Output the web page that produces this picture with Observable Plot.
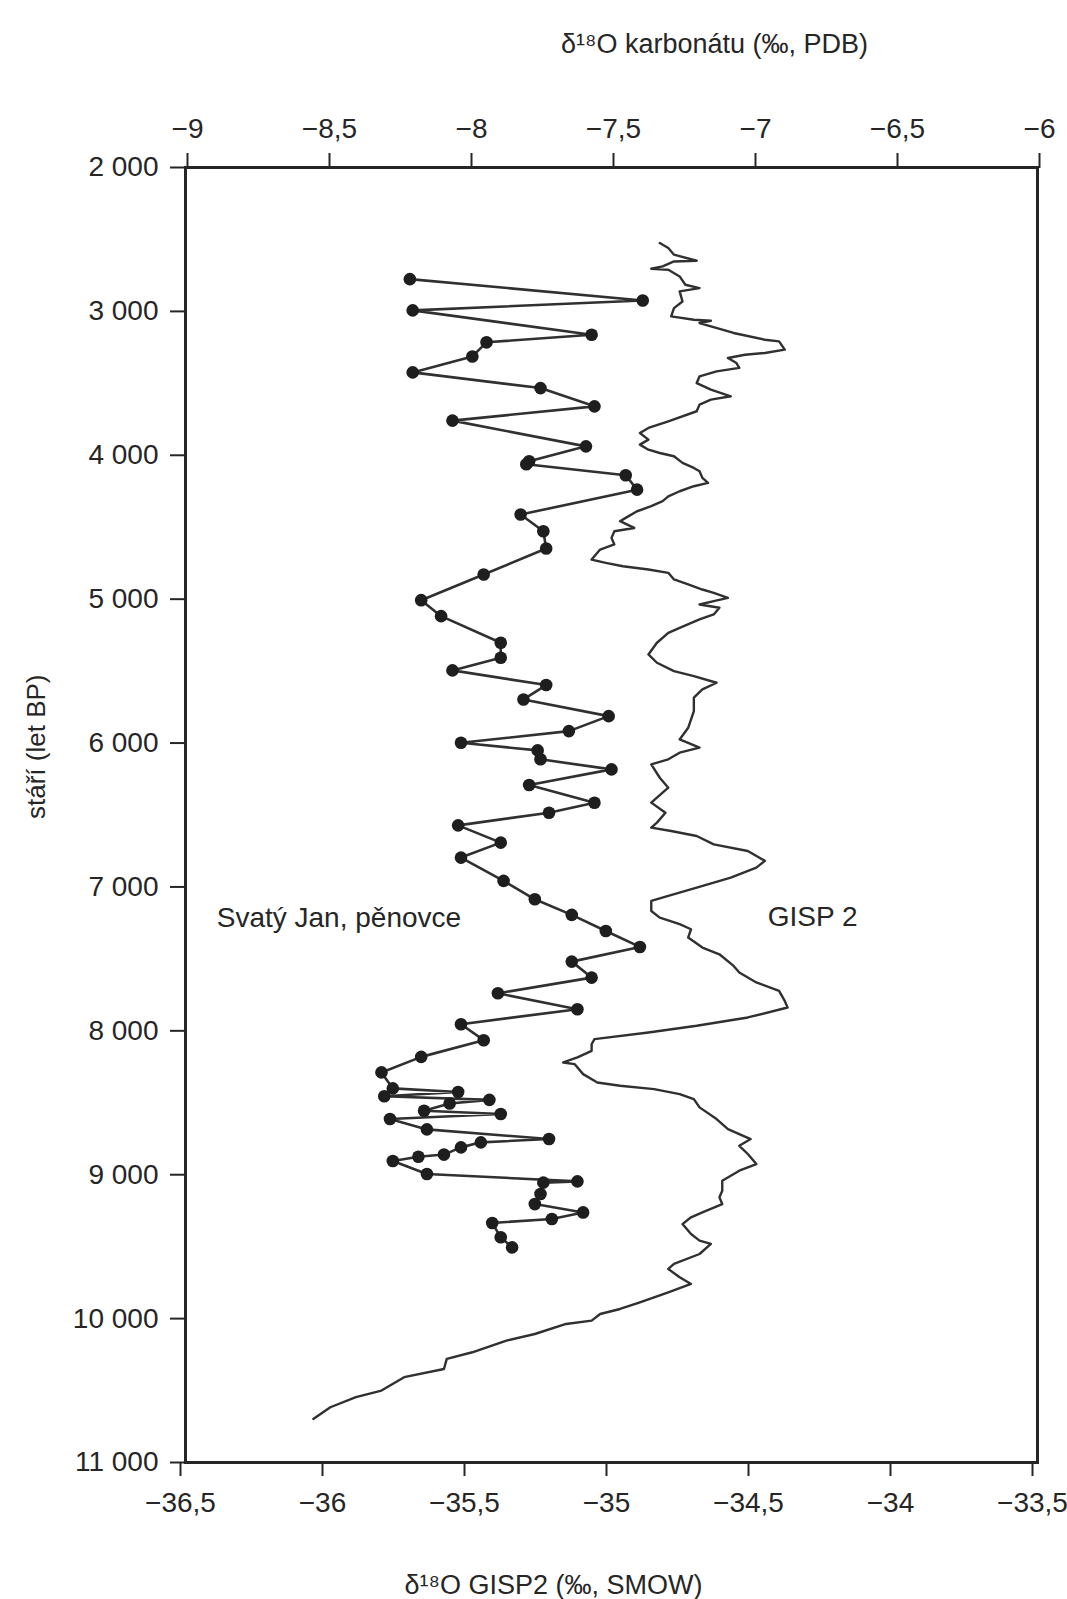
<!DOCTYPE html>
<html>
<head>
<meta charset="utf-8">
<script src="https://cdn.jsdelivr.net/npm/d3@7"></script>
<script src="https://cdn.jsdelivr.net/npm/@observablehq/plot@0.6"></script>
<style>
  html, body { margin: 0; padding: 0; background: #fff; }
  svg { display: block; }
</style>
</head>
<body>
<div id="chart"></div>
<script>
// ---- Svatý Jan tufa (pěnovce): age (years BP) and δ18O carbonate (‰ PDB)
const svAge = [2776, 2924, 2993, 3162, 3215, 3313, 3424, 3533, 3660, 3759,
  3938, 4042, 4062, 4139, 4239, 4412, 4528, 4648, 4829, 5007,
  5118, 5303, 5407, 5495, 5597, 5697, 5813, 5917, 5998, 6051,
  6113, 6183, 6292, 6415, 6484, 6572, 6692, 6796, 6958, 7086,
  7194, 7306, 7417, 7519, 7630, 7739, 7850, 7954, 8065, 8181,
  8289, 8400, 8425, 8455, 8480, 8505, 8555, 8578, 8613, 8685,
  8752, 8775, 8810, 8860, 8875, 8905, 8995, 9046, 9055, 9134,
  9204, 9262, 9308, 9335, 9435, 9505];
const svD18O = [-8.21, -7.39, -8.20, -7.57, -7.94, -7.99, -8.20, -7.75, -7.56, -8.06,
  -7.59, -7.79, -7.80, -7.45, -7.41, -7.82, -7.74, -7.73, -7.95, -8.17,
  -8.10, -7.89, -7.89, -8.06, -7.73, -7.81, -7.51, -7.65, -8.03, -7.76,
  -7.75, -7.50, -7.79, -7.56, -7.72, -8.04, -7.89, -8.03, -7.88, -7.77,
  -7.64, -7.52, -7.40, -7.64, -7.57, -7.90, -7.62, -8.03, -7.95, -8.17,
  -8.31, -8.27, -8.04, -8.30, -7.93, -8.07, -8.16, -7.89, -8.28, -8.15,
  -7.72, -7.96, -8.03, -8.09, -8.18, -8.27, -8.15, -7.62, -7.74, -7.75,
  -7.77, -7.60, -7.71, -7.92, -7.89, -7.85];

// ---- GISP2 ice core: age (years BP) and δ18O (‰ SMOW)
const gispAge = [2525, 2560, 2606, 2648, 2653, 2687, 2704, 2711, 2757, 2815,
  2838, 2861, 2931, 2977, 3035, 3058, 3065, 3081, 3150, 3197,
  3208, 3266, 3289, 3301, 3324, 3359, 3393, 3417, 3451, 3498,
  3544, 3590, 3613, 3648, 3694, 3764, 3810, 3845, 3891, 3926,
  3961, 3984, 4007, 4053, 4088, 4111, 4157, 4192, 4215, 4250,
  4285, 4319, 4354, 4389, 4435, 4458, 4505, 4528, 4574, 4620,
  4655, 4725, 4748, 4771, 4794, 4817, 4863, 4898, 4933, 4956,
  4991, 5014, 5037, 5060, 5106, 5141, 5199, 5234, 5303, 5384,
  5442, 5500, 5535, 5581, 5627, 5685, 5778, 5894, 5975, 6032,
  6067, 6113, 6148, 6241, 6310, 6414, 6484, 6553, 6588, 6611,
  6646, 6704, 6750, 6819, 6866, 6935, 7005, 7062, 7097, 7167,
  7213, 7259, 7294, 7352, 7421, 7468, 7549, 7595, 7664, 7722,
  7792, 7838, 7907, 7965, 8012, 8058, 8093, 8139, 8185, 8220,
  8231, 8301, 8359, 8382, 8405, 8440, 8475, 8532, 8613, 8683,
  8718, 8752, 8799, 8856, 8926, 8972, 9042, 9111, 9157, 9204,
  9262, 9296, 9343, 9412, 9458, 9481, 9551, 9620, 9655, 9713,
  9759, 9817, 9887, 9933, 9968, 10014, 10037, 10107, 10153, 10234,
  10280, 10350, 10407, 10500, 10546, 10616, 10697];
const gispD18O = [-34.83, -34.80, -34.78, -34.70, -34.78, -34.82, -34.86, -34.80, -34.76, -34.74,
  -34.69, -34.76, -34.75, -34.78, -34.79, -34.71, -34.65, -34.69, -34.57, -34.46,
  -34.41, -34.39, -34.46, -34.53, -34.59, -34.56, -34.55, -34.63, -34.69, -34.70,
  -34.65, -34.58, -34.65, -34.69, -34.70, -34.80, -34.87, -34.90, -34.87, -34.90,
  -34.87, -34.83, -34.78, -34.75, -34.71, -34.69, -34.68, -34.66, -34.71, -34.76,
  -34.80, -34.82, -34.86, -34.91, -34.95, -34.97, -34.92, -34.99, -35.00, -34.99,
  -35.04, -35.07, -35.02, -34.96, -34.87, -34.80, -34.78, -34.73, -34.68, -34.64,
  -34.59, -34.64, -34.69, -34.62, -34.64, -34.69, -34.76, -34.80, -34.84, -34.87,
  -34.84, -34.78, -34.71, -34.63, -34.68, -34.71, -34.71, -34.73, -34.76, -34.69,
  -34.76, -34.80, -34.86, -34.83, -34.80, -34.86, -34.81, -34.84, -34.86, -34.79,
  -34.70, -34.64, -34.52, -34.46, -34.49, -34.58, -34.70, -34.80, -34.86, -34.86,
  -34.83, -34.76, -34.72, -34.73, -34.68, -34.62, -34.57, -34.55, -34.49, -34.41,
  -34.39, -34.38, -34.52, -34.70, -34.87, -35.06, -35.07, -35.07, -35.12, -35.17,
  -35.13, -35.10, -35.05, -34.97, -34.85, -34.76, -34.71, -34.69, -34.63, -34.59,
  -34.55, -34.51, -34.55, -34.52, -34.49, -34.55, -34.61, -34.61, -34.62, -34.61,
  -34.68, -34.72, -34.75, -34.72, -34.69, -34.65, -34.69, -34.78, -34.80, -34.76,
  -34.72, -34.80, -34.90, -34.97, -35.04, -35.07, -35.16, -35.27, -35.37, -35.49,
  -35.58, -35.59, -35.73, -35.81, -35.90, -35.99, -36.05];

// ---- axes
const bottomTicks = [-36.5, -36, -35.5, -35, -34.5, -34, -33.5];   // δ18O GISP2
const topTicks = [-9, -8.5, -8, -7.5, -7, -6.5, -6];               // δ18O carbonate
const ageTicks = [2000, 3000, 4000, 5000, 6000, 7000, 8000, 9000, 10000, 11000];

// Texts
const topTitle = "δ¹⁸O karbonátu (‰, PDB)";
const bottomTitle = "δ¹⁸O GISP2 (‰, SMOW)";
const yTitle = "stáří (let BP)";
const seriesLabels = ["Svatý Jan, pěnovce", "GISP 2"];
const seriesLabelX = [-36.39, -34.45];   // in GISP2 ‰ units
const seriesLabelY = [7280, 7270];       // in years BP

// The carbonate axis (top) is a shifted copy of the GISP2 axis (bottom):
// −9 ‰ PDB sits over −36.5 ‰ SMOW, so shift = −27.5.
const shift = bottomTicks[0] - topTicks[0];

const sv = svAge.map((a, i) => ({age: a, v: svD18O[i] + shift}));
const gisp = gispAge.map((a, i) => ({age: a, v: gispD18O[i]}));
const labels = seriesLabels.map((t, i) => ({t, x: seriesLabelX[i], y: seriesLabelY[i]}));

const fmtX = d => d3.format(".1~f")(d).replace(".", ",");
const fmtTop = d => fmtX(Math.round((d - shift) * 10) / 10);
const fmtY = d => d3.format(",")(d).replace(",", " ");

const ink = "#262626";
const font = "'Liberation Sans', Arial, Helvetica, sans-serif";

const chart = Plot.plot({
  width: 1067,
  height: 1599,
  marginLeft: 185,
  marginRight: 30,
  marginTop: 167,
  marginBottom: 137,
  x: {domain: [bottomTicks[0], bottomTicks[bottomTicks.length - 1]]},
  y: {domain: [ageTicks[0], ageTicks[ageTicks.length - 1]], reverse: true},
  style: {fontFamily: font, fontSize: "28px", color: ink, background: "#fff"},
  marks: [
    Plot.axisX(bottomTicks, {anchor: "bottom", tickSize: 14, tickPadding: 16, tickFormat: fmtX,
      label: null, fontSize: 28, strokeWidth: 2, fill: ink, dx: -5}),
    Plot.axisX(bottomTicks, {anchor: "top", tickSize: 15, tickPadding: 15, tickFormat: fmtTop,
      label: null, fontSize: 28, strokeWidth: 2, fill: ink, dx: 2}),
    Plot.axisY(ageTicks, {anchor: "left", tickSize: 15, tickPadding: 12, tickFormat: fmtY,
      label: null, fontSize: 28, strokeWidth: 2, fill: ink}),
    Plot.frame({stroke: ink, strokeWidth: 3}),
    Plot.line(gisp, {x: "v", y: "age", stroke: "#303030", strokeWidth: 2.4, strokeLinejoin: "round"}),
    Plot.line(sv, {x: "v", y: "age", stroke: "#303030", strokeWidth: 2.6, strokeLinejoin: "round"}),
    Plot.dot(sv, {x: "v", y: "age", r: 6.3, fill: "#1e1e1e", stroke: "none"}),
    Plot.text(labels, {x: "x", y: "y", text: "t", textAnchor: "start", lineAnchor: "bottom",
      fontSize: 28, fill: ink}),
    Plot.text([topTitle], {text: d => d, frameAnchor: "top", dx: 103, dy: -115, lineAnchor: "bottom",
      fontSize: 27, fill: ink}),
    Plot.text([bottomTitle], {text: d => d, frameAnchor: "bottom", dx: -58, dy: 131, lineAnchor: "bottom",
      fontSize: 27, fill: ink}),
    Plot.text([yTitle], {text: d => d, frameAnchor: "left", dx: -149, dy: 4, rotate: -90,
      lineAnchor: "middle", fontSize: 26, fill: ink})
  ]
});

document.getElementById("chart").appendChild(chart);
</script>
</body>
</html>
